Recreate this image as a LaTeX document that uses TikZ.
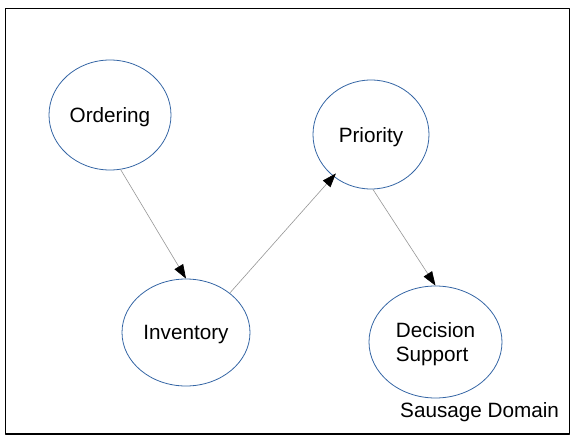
\documentclass[tikz,border=0pt]{standalone}
\usepackage{fontspec}
\setmainfont{Liberation Sans}
\usetikzlibrary{arrows.meta, shapes.geometric}
\definecolor{ellblue}{RGB}{52,101,164}
\definecolor{linegray}{RGB}{150,150,150}

\begin{document}
\begin{tikzpicture}[x=1pt, y=-1pt, line join=round, >={Triangle[length=14pt,width=10pt,color=black]}, every node/.style={font=\fontsize{20.7}{24}\selectfont}, partnode/.style={ellipse, draw=ellblue, line width=0.8pt, inner sep=0pt, text depth=0pt}, link/.style={draw=linegray, line width=0.6pt, ->}]
	\useasboundingbox (0,0) rectangle (574,442);
	\draw[line width=1.6pt] (5.5,8.5) rectangle (569.5,434);
	% the four parts
	\node[partnode, minimum width=122, minimum height=110] (ordering) at (110,115) {Ordering};
	\node[partnode, minimum width=116, minimum height=109] (priority) at (371,134.5) {Priority};
	\node[partnode, minimum width=128, minimum height=107] (inventory) at (186,332.5) {Inventory};
	\node[partnode, minimum width=133, minimum height=112, align=left] (decision) at (435.5,342) {Decision\\Support};
	\node[anchor=base west, inner sep=0pt] (sausage) at (400,417) {Sausage Domain};
	% flow
	\draw[link] (ordering.-79) -- (inventory.north);
	\draw[link, shorten >=-4pt] (inventory.42) -- (priority.228);
	\draw[link] (priority.-88) -- (decision.north);
\end{tikzpicture}
\end{document}
